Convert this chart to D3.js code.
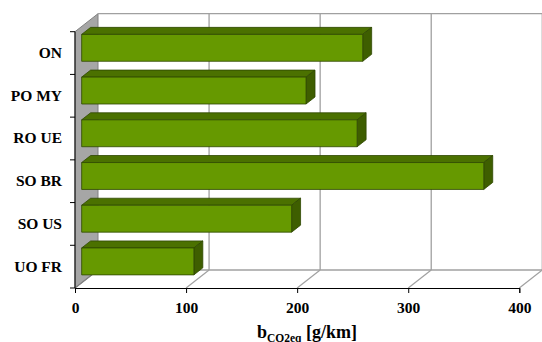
<!DOCTYPE html>
<html>
<head>
<meta charset="utf-8">
<script src="https://cdn.jsdelivr.net/npm/d3@7"></script>
<style>
  html, body { margin: 0; padding: 0; background: #fff; }
  svg { display: block; }
</style>
</head>
<body>
<svg id="chart" width="542" height="342"></svg>
<script>
// Data
const categories = ["ON", "PO MY", "RO UE", "SO BR", "SO US", "UO FR"];
const values = [253, 202, 248, 362, 189, 101];
const xTicks = [0, 100, 200, 300, 400];

// Layout
const W = 542, H = 342;
const FONT = "'Liberation Serif', 'Times New Roman', serif";
const front = { left: 75, right: 519.3, top: 31.7, bottom: 288 };
const DX = 23, DY = -18;          // full depth offset of the 3-D box
const zFront = 0.29, zBack = 0.68; // bar depth within the box

const svg = d3.select("#chart");

const x = d3.scaleLinear().domain([0, 400]).range([front.left, front.right]);
const y = d3.scaleBand().domain(categories).range([front.top, front.bottom]).padding(0);

// project a front-plane point into depth z (0 = front, 1 = back)
const P = (px, py, z) => [px + z * DX, py + z * DY];
const poly = pts => "M" + pts.map(p => p.join(",")).join("L") + "Z";

const styleText = sel => sel
  .style("font-family", FONT)
  .style("font-weight", "bold")
  .style("font-size", "15.5px")
  .attr("fill", "#000");

// Left side wall
svg.append("path")
  .attr("d", poly([P(front.left, front.top, 0), P(front.left, front.top, 1),
                   P(front.left, front.bottom, 1), P(front.left, front.bottom, 0)]))
  .attr("fill", "#a6a6a6").attr("stroke", "#808080").attr("stroke-width", 1);

// Back wall top edge
svg.append("line")
  .attr("x1", front.left + DX).attr("x2", W + 5)
  .attr("y1", front.top + DY).attr("y2", front.top + DY)
  .attr("stroke", "#a0a0a0").attr("stroke-width", 1.3);

// Back wall gridlines
svg.append("g").selectAll("line").data(xTicks.filter(d => d > 0)).join("line")
  .attr("x1", d => x(d) + DX).attr("x2", d => x(d) + DX)
  .attr("y1", front.top + DY).attr("y2", front.bottom + DY)
  .attr("stroke", "#a0a0a0").attr("stroke-width", 1.3);

// Floor: back edge and depth lines at each tick
svg.append("line")
  .attr("x1", front.left + DX).attr("x2", x(400) + DX)
  .attr("y1", front.bottom + DY).attr("y2", front.bottom + DY)
  .attr("stroke", "#a0a0a0").attr("stroke-width", 1.3);
svg.append("g").selectAll("line").data(xTicks).join("line")
  .attr("x1", d => x(d)).attr("y1", front.bottom)
  .attr("x2", d => x(d) + DX).attr("y2", front.bottom + DY)
  .attr("stroke", d => d === 0 ? "#808080" : "#a0a0a0").attr("stroke-width", 1.2);

// Bars (top, end and front faces)
const bh = y.bandwidth() * 0.63;
const bars = svg.append("g").selectAll("g").data(categories.map((c, i) => ({ c, v: values[i] }))).join("g");
bars.each(function(d) {
  const g = d3.select(this);
  const y0 = y(d.c) + (y.bandwidth() - bh) / 2, y1 = y0 + bh;
  const x0 = x(0), x1 = x(d.v);
  const stroke = "#2f4700";
  g.append("path")
    .attr("d", poly([P(x0, y0, zFront), P(x0, y0, zBack), P(x1, y0, zBack), P(x1, y0, zFront)]))
    .attr("fill", "#4b7100").attr("stroke", stroke).attr("stroke-width", 0.8);
  g.append("path")
    .attr("d", poly([P(x1, y0, zFront), P(x1, y0, zBack), P(x1, y1, zBack), P(x1, y1, zFront)]))
    .attr("fill", "#3e5e00").attr("stroke", stroke).attr("stroke-width", 0.8);
  g.append("path")
    .attr("d", poly([P(x0, y0, zFront), P(x1, y0, zFront), P(x1, y1, zFront), P(x0, y1, zFront)]))
    .attr("fill", "#669900").attr("stroke", stroke).attr("stroke-width", 0.8);
});

// X axis
const xAxis = svg.append("g")
  .attr("transform", `translate(0,${front.bottom})`)
  .call(d3.axisBottom(x).tickValues(xTicks).tickSize(5).tickPadding(9).tickFormat(d3.format("d")));
xAxis.attr("font-family", null).attr("font-size", null);
xAxis.select(".domain").attr("stroke", "#000").attr("stroke-width", 1);
xAxis.selectAll(".tick line").attr("stroke", "#000");
xAxis.selectAll("text").call(styleText);

// Y axis: boundary ticks and category labels
svg.append("line")
  .attr("x1", front.left).attr("x2", front.left)
  .attr("y1", front.top).attr("y2", front.bottom)
  .attr("stroke", "#000").attr("stroke-width", 1);
const bounds = categories.map(c => y(c)).concat([front.bottom]);
svg.append("g").selectAll("line").data(bounds).join("line")
  .attr("x1", front.left - 5).attr("x2", front.left)
  .attr("y1", d => d).attr("y2", d => d)
  .attr("stroke", "#000");
const yAxis = svg.append("g")
  .attr("transform", `translate(${front.left},0)`)
  .call(d3.axisLeft(y).tickSize(0).tickPadding(13));
yAxis.attr("font-family", null).attr("font-size", null);
yAxis.select(".domain").remove();
yAxis.selectAll("text").call(styleText);

// Axis title
const title = svg.append("text")
  .attr("x", 307).attr("y", 338)
  .attr("text-anchor", "middle")
  .call(styleText)
  .style("font-size", "18px");
title.append("tspan").text("b");
title.append("tspan").text("CO2eq").attr("dy", 3.5).style("font-size", "11.5px");
title.append("tspan").text(" [g/km]").attr("dy", -3.5);
</script>
</body>
</html>
